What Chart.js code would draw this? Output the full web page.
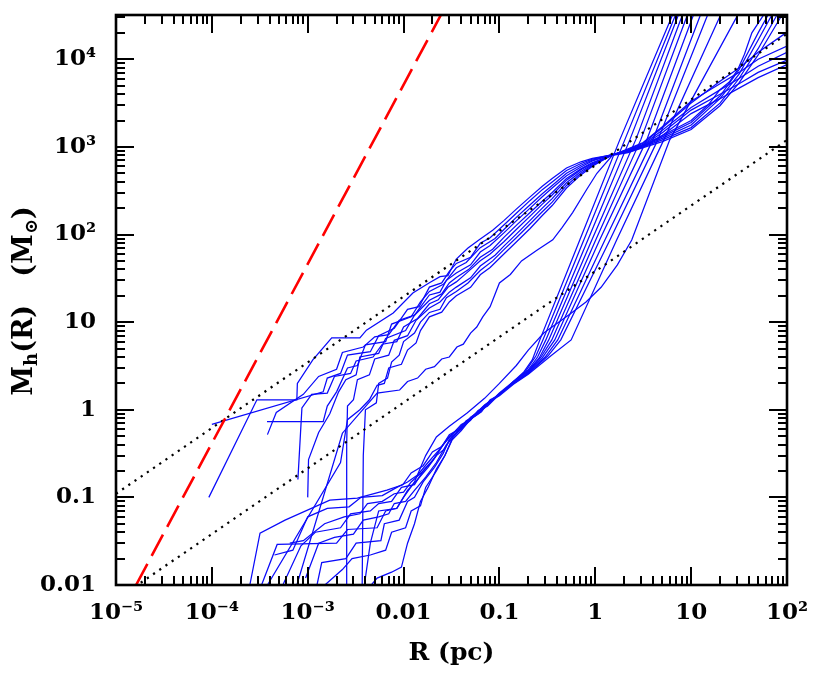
<!DOCTYPE html>
<html>
<head>
<meta charset="utf-8">
<script src="https://cdn.jsdelivr.net/npm/chart.js@4"></script>
<style>
html,body{margin:0;padding:0;background:#fff;}
canvas{display:block;}
</style>
</head>
<body>
<canvas id="c" width="830" height="674"></canvas>
<script>
// ---- tick values / labels ----
const xTickValues = [1e-5, 1e-4, 1e-3, 0.01, 0.1, 1, 10, 100];
const xTickLabels = ['10⁻⁵', '10⁻⁴', '10⁻³', '0.01', '0.1', '1', '10', '10²'];
const yTickValues = [0.01, 0.1, 1, 10, 100, 1000, 10000];
const yTickLabels = ['0.01', '0.1', '1', '10', '10²', '10³', '10⁴'];

// ---- reference lines [R (pc), M (Msun)] ----
const redLine = [[1.62e-5, 0.01], [0.0245, 32000]];
const dottedUpper = [[1e-5, 0.11], [100, 19500]];
const dottedLower = [[1e-5, 0.0068], [100, 1200]];

// ---- upper family of curves ----
const curveU0 = [[9.3e-5,0.1],[2.95e-4,1.3],[7.7e-4,1.3],[7.8e-4,2.0],[1.13e-3,3.7],[1.78e-3,6.6],[3.5e-3,6.6],[4.1e-3,8.1],[7.8e-3,12.7],[0.0125,21.5],[0.0186,28.2],[0.024,33],[0.029,34],[0.0355,52.5],[0.047,70],[0.0631,89],[0.085,112],[0.112,145],[0.15,195],[0.209,269],[0.28,355],[0.355,437],[0.501,575],[0.708,676],[0.933,741],[1.51,813],[2.2,930],[3.16,1100],[5,1650],[10,3160],[20,5620],[31.6,7940],[50,12000],[100,20400]];
const curveU1 = [[1.0e-4,0.68],[1.45e-3,1.6],[1.6e-3,2.3],[2.2e-3,2.6],[2.6e-3,4.2],[4.5e-3,4.6],[5.5e-3,7.0],[8e-3,8.5],[0.011,14],[0.0145,15],[0.0186,25.1],[0.025,28],[0.03,38],[0.0355,46.8],[0.05,55],[0.0631,79.4],[0.08,92],[0.112,129],[0.15,175],[0.209,245],[0.28,325],[0.355,398],[0.501,537],[0.708,646],[0.933,724],[1.51,818],[2.2,900],[3.16,1050],[5,1350],[10,2000],[15,3000],[20,4500],[25,5500],[30.6,7600],[36,11400],[43,20000],[57,32000],[62,40000]];
const curveU2 = [[3.76e-4,0.73],[1.45e-3,0.73],[1.6e-3,1.1],[2.0e-3,1.6],[2.6e-3,3.0],[3.3e-3,3.2],[4.0e-3,5.5],[6.5e-3,6.0],[7.5e-3,9.5],[0.012,11.5],[0.015,17],[0.0186,22.4],[0.026,27],[0.0355,41.7],[0.045,48],[0.0631,70.8],[0.09,90],[0.112,115],[0.15,157],[0.209,219],[0.28,292],[0.355,363],[0.501,501],[0.708,617],[0.933,708],[1.51,808],[2.2,950],[3.16,1120],[5,1700],[10,3310],[20,5250],[31.6,7080],[50,10000],[100,14100]];
const curveU3 = [[3.8e-4,0.52],[4.7e-4,0.93],[9e-4,1.5],[1.3e-3,2.4],[2.0e-3,2.9],[2.3e-3,4.5],[3.8e-3,5.2],[5e-3,6.8],[7e-3,7.2],[9e-3,10.5],[0.013,12],[0.0186,20.4],[0.024,22],[0.028,30],[0.0355,36.3],[0.05,45],[0.0631,63.1],[0.08,75],[0.112,105],[0.15,143],[0.209,200],[0.28,270],[0.355,339],[0.501,468],[0.708,589],[0.933,692],[1.51,820],[2.2,890],[3.16,1030],[5,1300],[10,1900],[20,3800],[31.6,7590],[50,20000],[63,31600],[68,40000]];
const curveU4 = [[1.0e-3,0.1],[1.02e-3,0.27],[1.3e-3,0.55],[1.7e-3,0.9],[2.1e-3,1.6],[2.5e-3,2.2],[3.2e-3,2.5],[3.5e-3,4.0],[5.5e-3,4.4],[6.5e-3,6.5],[0.0105,8.0],[0.013,12],[0.0186,17.8],[0.025,21],[0.03,28],[0.0355,32.4],[0.048,40],[0.0631,55],[0.085,68],[0.112,93.3],[0.15,127],[0.209,178],[0.28,240],[0.355,302],[0.501,437],[0.708,562],[0.933,661],[1.51,805],[2.2,920],[3.16,1070],[5,1550],[10,2820],[20,4470],[31.6,6030],[50,8320],[100,12000]];
const curveU5 = [[7.9e-4,0.16],[8.7e-4,1.05],[1.1e-3,1.5],[1.6e-3,1.55],[1.9e-3,2.4],[2.8e-3,2.6],[3.2e-3,3.6],[4.8e-3,4.0],[6e-3,5.6],[8.5e-3,6.0],[0.01,8.8],[0.014,11],[0.0186,16.2],[0.023,18],[0.029,25],[0.0355,28.8],[0.045,36],[0.0631,50.1],[0.08,60],[0.112,83.2],[0.15,114],[0.209,162],[0.28,222],[0.355,282],[0.501,417],[0.708,550],[0.933,646],[1.51,815],[2.2,880],[3.16,1020],[5,1250],[10,1780],[20,3550],[31.6,6760],[50,16600],[69,31600],[75,40000]];
const curveU6 = [[2.56e-3,0.01],[2.55e-3,0.4],[2.6e-3,1.1],[3.0e-3,1.3],[3.3e-3,2.2],[4.4e-3,2.5],[5e-3,3.8],[7e-3,4.2],[8e-3,6.2],[0.011,7.0],[0.0135,10.5],[0.0186,14.5],[0.024,17],[0.03,22],[0.0355,25.1],[0.05,32],[0.0631,43.7],[0.09,58],[0.112,74.1],[0.15,101],[0.209,145],[0.28,200],[0.355,257],[0.501,389],[0.708,525],[0.933,631],[1.51,810],[2.2,900],[3.16,1050],[5,1450],[10,2630],[20,3980],[31.6,5250],[50,7080],[100,9770]];
const curveU7 = [[3.7e-3,0.01],[3.8e-3,0.3],[4.0e-3,1.0],[5.2e-3,1.2],[5.5e-3,2.0],[6.8e-3,2.3],[7.5e-3,3.5],[9e-3,4.2],[0.01,6.0],[0.013,7.5],[0.015,10],[0.0186,12.9],[0.024,14],[0.028,19],[0.0355,22.4],[0.047,28],[0.0631,38.9],[0.085,50],[0.112,67.6],[0.15,92],[0.209,132],[0.28,182],[0.355,234],[0.501,363],[0.708,501],[0.933,617],[1.51,808],[2.2,870],[3.16,1000],[5,1200],[10,1660],[20,3160],[31.6,6030],[50,13200],[78,31600],[85,40000]];
const curveU8 = [[3.8e-4,0.01],[2.2e-3,0.25],[2.6e-3,0.77],[3.5e-3,1.0],[4.4e-3,1.3],[5.3e-3,1.9],[6.3e-3,2.0],[7e-3,3.0],[9.5e-3,3.3],[0.011,4.8],[0.0135,5.8],[0.015,8.0],[0.0186,11.5],[0.025,13],[0.03,17],[0.0355,20],[0.05,25],[0.0631,34.7],[0.08,42],[0.112,60.3],[0.15,82],[0.209,117],[0.28,165],[0.355,214],[0.501,339],[0.708,479],[0.933,603],[1.51,812],[2.2,880],[3.16,1000],[5,1350],[10,2400],[20,3550],[31.6,4680],[50,6170],[100,8710]];
const curveU9 = [[7.7e-4,0.01],[2.3e-3,0.54],[5.3e-3,1.55],[9.1e-3,1.68],[0.011,2.1],[0.014,2.3],[0.017,2.9],[0.021,3.1],[0.025,3.8],[0.03,4.0],[0.036,5.2],[0.042,5.6],[0.05,7.5],[0.058,8.8],[0.067,11.5],[0.08,15],[0.1,28],[0.13,35],[0.17,50],[0.246,66],[0.36,87],[0.45,120],[0.58,178],[0.81,324],[1.04,500],[1.51,800],[2.2,860],[3.16,980],[5,1150],[10,1580],[20,2950],[31.6,5370],[50,11200],[88,31600],[95,40000]];

// ---- lower family of curves ----
const curveL0 = [[2.49e-4,0.01],[3.18e-4,0.039],[5.8e-4,0.055],[1.7e-3,0.093],[3.3e-3,0.098],[6.7e-3,0.121],[9.8e-3,0.139],[0.012,0.19],[0.016,0.23],[0.02,0.33],[0.025,0.38],[0.03,0.52],[0.04,0.62],[0.05,0.82],[0.07,1.05],[0.1,1.55],[0.14,2.1],[0.18,2.7],[0.22,3.7],[0.264,6.27],[0.689,86.7],[1.80,1202],[6.28,30500],[6.97,40000]];
const curveL1 = [[3.3e-4,0.01],[4.8e-4,0.029],[2.0e-3,0.030],[2.6e-3,0.043],[5.3e-3,0.045],[6.5e-3,0.07],[8.5e-3,0.075],[0.011,0.12],[0.014,0.16],[0.018,0.22],[0.022,0.3],[0.027,0.36],[0.032,0.5],[0.04,0.6],[0.05,0.8],[0.07,1.12],[0.1,1.5],[0.14,2.05],[0.19,2.8],[0.24,4.1],[0.284,6.27],[0.759,86.7],[2.03,1202],[6.75,30500],[7.46,40000]];
const curveL2 = [[5.5e-4,0.01],[8.5e-4,0.028],[1.2e-3,0.04],[2.2e-3,0.045],[2.8e-3,0.065],[4.5e-3,0.07],[5.5e-3,0.085],[7.5e-3,0.09],[9.5e-3,0.13],[0.013,0.14],[0.016,0.2],[0.021,0.28],[0.026,0.4],[0.03,0.48],[0.04,0.68],[0.05,0.77],[0.07,1.12],[0.1,1.48],[0.14,2.1],[0.2,2.85],[0.25,4.0],[0.305,6.27],[0.836,86.7],[2.29,1202],[7.24,30500],[7.95,40000]];
const curveL3 = [[1.25e-3,0.01],[1.4e-3,0.018],[2.5e-3,0.02],[3.2e-3,0.03],[5.8e-3,0.032],[6.3e-3,0.05],[9e-3,0.055],[0.011,0.09],[0.013,0.1],[0.016,0.15],[0.021,0.22],[0.026,0.32],[0.03,0.46],[0.036,0.55],[0.045,0.75],[0.055,0.85],[0.07,1.08],[0.1,1.53],[0.14,2.05],[0.2,2.8],[0.26,3.9],[0.327,6.27],[0.920,86.7],[2.64,1202],[7.98,30500],[8.8,40000]];
const curveL4 = [[1.51e-3,0.01],[2.3e-3,0.015],[2.9e-3,0.02],[4.5e-3,0.022],[6.5e-3,0.025],[7.5e-3,0.04],[0.0105,0.045],[0.012,0.07],[0.015,0.08],[0.017,0.13],[0.022,0.2],[0.027,0.3],[0.032,0.45],[0.04,0.58],[0.05,0.78],[0.065,0.95],[0.08,1.3],[0.1,1.47],[0.14,2.1],[0.2,2.75],[0.27,3.95],[0.352,6.27],[1.01,86.7],[2.98,1202],[8.99,30500],[9.9,40000]];
const curveL5 = [[4.6e-3,0.01],[5.3e-3,0.012],[7.5e-3,0.014],[0.0095,0.016],[0.011,0.03],[0.013,0.05],[0.015,0.09],[0.018,0.13],[0.022,0.21],[0.027,0.3],[0.033,0.5],[0.04,0.62],[0.05,0.76],[0.06,0.98],[0.075,1.1],[0.1,1.5],[0.14,2.0],[0.2,2.7],[0.28,3.9],[0.378,6.27],[1.11,86.7],[3.44,1202],[10.4,30500],[11.5,40000]];
const curveL6 = [[6.5e-4,0.03],[9e-4,0.032],[1.5e-3,0.05],[2.4e-3,0.06],[3.5e-3,0.065],[4.2e-3,0.085],[6e-3,0.09],[8e-3,0.11],[0.01,0.115],[0.012,0.15],[0.016,0.2],[0.02,0.26],[0.025,0.38],[0.03,0.5],[0.038,0.6],[0.05,0.8],[0.07,1.08],[0.1,1.52],[0.14,2.0],[0.2,2.65],[0.3,4.0],[0.406,6.27],[1.26,86.7],[3.98,1202],[12.3,30500],[13.5,40000]];
const curveL7 = [[4.5e-4,0.022],[7e-4,0.025],[1.0e-3,0.06],[1.6e-3,0.075],[2.7e-3,0.078],[3.6e-3,0.1],[6e-3,0.105],[8.5e-3,0.13],[0.011,0.15],[0.014,0.18],[0.018,0.25],[0.023,0.34],[0.03,0.49],[0.04,0.66],[0.05,0.8],[0.07,1.13],[0.1,1.5],[0.14,2.0],[0.2,2.6],[0.32,4.1],[0.437,6.27],[1.42,86.7],[4.49,1202],[14.6,30500],[16.2,40000]];
const curveL8 = [[9.5e-4,0.012],[1.3e-3,0.03],[1.9e-3,0.035],[3.0e-3,0.038],[3.8e-3,0.055],[5.5e-3,0.06],[7e-3,0.065],[8e-3,0.085],[0.0105,0.09],[0.013,0.12],[0.017,0.17],[0.022,0.25],[0.028,0.4],[0.035,0.52],[0.045,0.72],[0.06,0.9],[0.08,1.25],[0.1,1.45],[0.14,1.95],[0.2,2.55],[0.35,4.2],[0.56,6.27],[1.67,86.7],[5.18,1202],[19.9,30500],[22.5,40000]];
const curveL9 = [[3.9e-3,0.01],[4.5e-3,0.03],[5.5e-3,0.07],[8.5e-3,0.075],[0.01,0.1],[0.013,0.15],[0.017,0.3],[0.022,0.49],[0.03,0.65],[0.046,0.92],[0.07,1.35],[0.1,2.0],[0.15,3.2],[0.2,4.8],[0.29,7.5],[0.36,8.9],[0.55,12.5],[0.8,17],[1.15,25],[1.7,45],[2.4,86.7],[5.98,1202],[29.9,30500],[34.3,40000]];

const blueCurves = [curveU0, curveU1, curveU2, curveU3, curveU4, curveU5, curveU6, curveU7, curveU8, curveU9,
                    curveL0, curveL1, curveL2, curveL3, curveL4, curveL5, curveL6, curveL7, curveL8, curveL9];

const FONT = "'DejaVu Serif', 'Liberation Serif', serif";
const toXY = arr => arr.map(p => ({x: p[0], y: p[1]}));

const datasets = [];
datasets.push({data: toXY(redLine), borderColor: '#ff0000', borderWidth: 2.6, borderDash: [24, 9], order: 0});
datasets.push({data: toXY(dottedUpper), borderColor: '#000', borderWidth: 2.2, borderDash: [2.2, 5.3], order: 1});
datasets.push({data: toXY(dottedLower), borderColor: '#000', borderWidth: 2.2, borderDash: [2.2, 5.3], order: 1});
blueCurves.forEach(c => datasets.push({data: toXY(c), borderColor: 'rgb(10,10,250)', borderWidth: 1.25, order: 2}));

function labelFor(values, labels, v) {
  const i = values.findIndex(t => Math.abs(Math.log10(t) - Math.log10(v)) < 1e-6);
  return i >= 0 ? labels[i] : '';
}

const framePlugin = {
  id: 'frame',
  afterDraw(chart) {
    const ctx = chart.ctx, a = chart.chartArea;
    const xs = chart.scales.x, ys = chart.scales.y;
    ctx.save();
    ctx.strokeStyle = '#000';
    ctx.lineCap = 'butt';
    ctx.lineWidth = 2;
    ctx.beginPath();
    for (let n = -5; n <= 2; n++) {
      for (let m = 1; m <= 9; m++) {
        const v = m * Math.pow(10, n);
        if (v < xs.min * 0.999 || v > xs.max * 1.001) continue;
        const px = Math.round(xs.getPixelForValue(v));
        const len = m === 1 ? 18 : 9;
        ctx.moveTo(px, a.bottom); ctx.lineTo(px, a.bottom - len);
        ctx.moveTo(px, a.top); ctx.lineTo(px, a.top + len);
      }
    }
    for (let n = -2; n <= 4; n++) {
      for (let m = 1; m <= 9; m++) {
        const v = m * Math.pow(10, n);
        if (v < ys.min * 0.999 || v > ys.max * 1.001) continue;
        const py = Math.round(ys.getPixelForValue(v));
        const len = m === 1 ? 18 : 9;
        ctx.moveTo(a.left, py); ctx.lineTo(a.left + len, py);
        ctx.moveTo(a.right, py); ctx.lineTo(a.right - len, py);
      }
    }
    ctx.stroke();
    ctx.lineWidth = 2.6;
    ctx.strokeRect(a.left, a.top, a.right - a.left, a.bottom - a.top);
    // y axis title with subscripts
    const big = 27, small = 18;
    const parts = [
      {t: 'M', s: big, dy: 0}, {t: 'h', s: small, dy: 5}, {t: '(R)', s: big, dy: 0},
      {t: '   ', s: big, dy: 0}, {t: '(M', s: big, dy: 0}, {t: '⊙', s: small, dy: 5}, {t: ')', s: big, dy: 0}
    ];
    let total = 0;
    parts.forEach(p => { ctx.font = 'bold ' + p.s + 'px ' + FONT; p.w = ctx.measureText(p.t).width; total += p.w; });
    ctx.translate(32, 301);
    ctx.rotate(-Math.PI / 2);
    ctx.fillStyle = '#000';
    ctx.textBaseline = 'alphabetic';
    ctx.textAlign = 'left';
    let x = -total / 2;
    parts.forEach(p => { ctx.font = 'bold ' + p.s + 'px ' + FONT; ctx.fillText(p.t, x, p.dy); x += p.w; });
    ctx.restore();
  }
};

new Chart(document.getElementById('c'), {
  type: 'line',
  data: {datasets},
  options: {
    responsive: false,
    animation: false,
    devicePixelRatio: 1,
    layout: {padding: {left: 0, right: 43, top: 15, bottom: 0}},
    plugins: {legend: {display: false}, tooltip: {enabled: false}},
    elements: {point: {radius: 0}, line: {tension: 0, fill: false}},
    scales: {
      x: {
        type: 'logarithmic', position: 'bottom', min: 1e-5, max: 100,
        grid: {display: false, drawTicks: false}, border: {display: false},
        ticks: {autoSkip: false, maxRotation: 0, padding: 14, color: '#000',
                font: {family: FONT, size: 23, weight: 'bold'},
                callback: v => labelFor(xTickValues, xTickLabels, v)},
        afterBuildTicks: s => { s.ticks = xTickValues.map(v => ({value: v})); },
        afterFit: s => { s.height = 89; s.paddingLeft = 0; s.paddingRight = 0; },
        title: {display: true, text: 'R (pc)', color: '#000', font: {family: FONT, size: 25, weight: 'bold'}, padding: {top: 0, bottom: 6}}
      },
      y: {
        type: 'logarithmic', position: 'left', min: 0.01, max: 32000,
        grid: {display: false, drawTicks: false}, border: {display: false},
        ticks: {autoSkip: false, padding: 20, color: '#000',
                font: {family: FONT, size: 23, weight: 'bold'},
                callback: v => labelFor(yTickValues, yTickLabels, v)},
        afterBuildTicks: s => { s.ticks = yTickValues.map(v => ({value: v})); },
        afterFit: s => { s.width = 116; s.paddingTop = 0; s.paddingBottom = 0; }
      }
    }
  },
  plugins: [framePlugin]
});
</script>
</body>
</html>
